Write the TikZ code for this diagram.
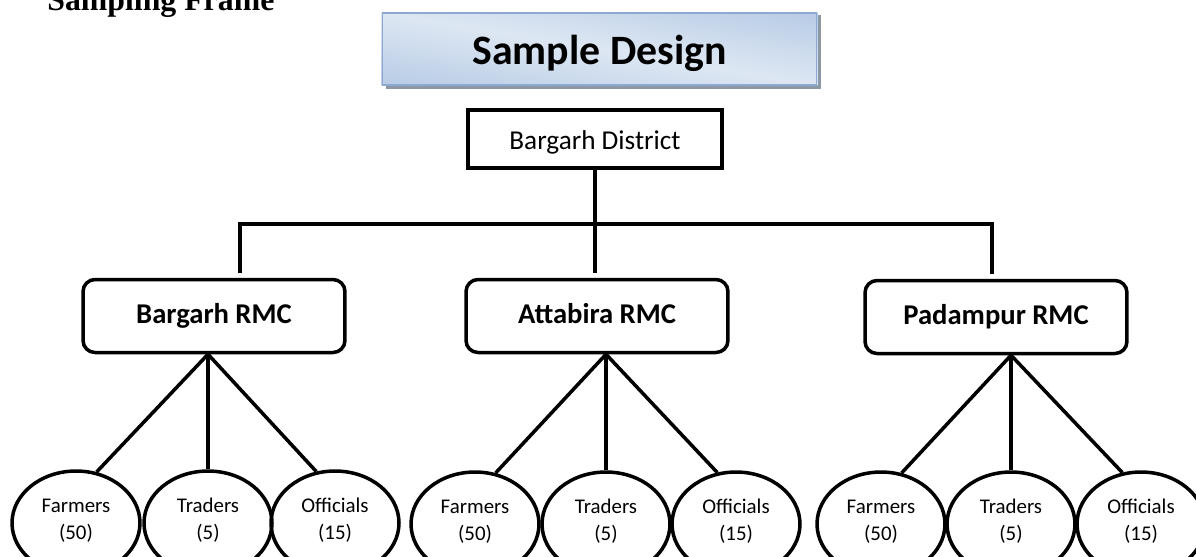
\documentclass[tikz,border=0pt]{standalone}
\usepackage{fontspec}
\setmainfont{Carlito}
\newfontfamily\framefont{Liberation Serif}
\usepackage{tikz}
\usetikzlibrary{calc,shapes.geometric,backgrounds}
\usepackage{xcolor}
\definecolor{bannerDark}{HTML}{93B1D8}
\definecolor{bannerLight}{HTML}{DDE7F3}
\definecolor{bannerEdge}{HTML}{8DA9D1}
\definecolor{bannerShadow}{HTML}{8C98A6}

\begin{document}
\begin{tikzpicture}[
  x=0.02cm, y=-0.02cm,
  link/.style={line width=2pt, line join=miter},
  banner/.style={rectangle, minimum width=8.7cm, minimum height=1.44cm,
    draw=bannerEdge, line width=0.6pt,
    text height=17.8pt, text depth=0pt,
    font=\bfseries\fontsize{23.8}{28}\selectfont},
  distbox/.style={draw, line width=2.1pt, minimum width=5.08cm, minimum height=1.16cm,
    text height=12pt, text depth=0pt, font=\fontsize{15.5}{18}\selectfont},
  rmcbox/.style={draw, line width=2pt, rounded corners=0.24cm, minimum width=5.24cm,
    minimum height=1.46cm, text height=10.5pt, text depth=2pt,
    font=\bfseries\fontsize{16.3}{19}\selectfont},
  grp/.style={draw, ellipse, line width=2pt, minimum width=2.56cm, minimum height=2.08cm,
    inner sep=0pt, align=center, execute at begin node={\strut},
    font=\fontsize{11.9}{15.3}\selectfont}
  ]
\useasboundingbox (0,0) rectangle (1196,556);
\clip (0,0) rectangle (1196,556);

\node[anchor=base west, inner sep=0pt, font=\framefont\bfseries\fontsize{18.1}{20}\selectfont]
  (frame) at (47,10) {Sampling Frame};                       % cut by the top edge
\node[banner] (design) at (599.5,49) {Sample Design};
\node[distbox] (dist) at (595,139) {Bargarh District};

% banner fill: shadow and slanted gradient behind the title
\begin{scope}[on background layer]
  \fill[bannerShadow] ([shift={(4,3)}]design.south west) rectangle ([shift={(4,3)}]design.north east);
  \clip (design.south west) rectangle (design.north east);
  \begin{scope}[transform canvas={rotate around={-9.4:(design.center)}}]
    \shade[top color=bannerDark, bottom color=bannerDark, middle color=bannerLight]
      ($(design.center)+(-320,-140)$) rectangle ($(design.center)+(320,140)$);
  \end{scope}
\end{scope}

% markets
\node[rmcbox] (bR) at (214,316) {Bargarh RMC};
\node[rmcbox] (aR) at (597,316) {Attabira RMC};
\node[rmcbox] (pR) at (996,317) {Padampur RMC};

% respondent groups (cut by the bottom edge)
\node[grp] (bF) at (76,523)   {Farmers\\(50)};
\node[grp] (bT) at (208,523)  {Traders\\(5)};
\node[grp] (bO) at (335,523)  {Officials\\(15)};
\node[grp] (aF) at (475,524)  {Farmers\\(50)};
\node[grp] (aT) at (606,524)  {Traders\\(5)};
\node[grp] (aO) at (736,524)  {Officials\\(15)};
\node[grp] (pF) at (881,524)  {Farmers\\(50)};
\node[grp] (pT) at (1011,524) {Traders\\(5)};
\node[grp] (pO) at (1141,524) {Officials\\(15)};

\coordinate (hubL) at (240,224);
\coordinate (hubR) at (992,224);
\draw[link, shorten >=0.1cm] (dist.south) -- (dist.south |- aR.north);
\draw[link, shorten <=0.1cm, shorten >=0.1cm]
  (hubL |- bR.north) -- (hubL) -- (hubR) -- (hubR |- pR.north);

\foreach \m in {b,a,p}{
  \draw[link] (\m T.north |- \m R.south) -- (\m F.68);
  \draw[link] (\m T.north |- \m R.south) -- (\m T.north);
  \draw[link] (\m T.north |- \m R.south) -- (\m O.110);
}
\end{tikzpicture}
\end{document}
